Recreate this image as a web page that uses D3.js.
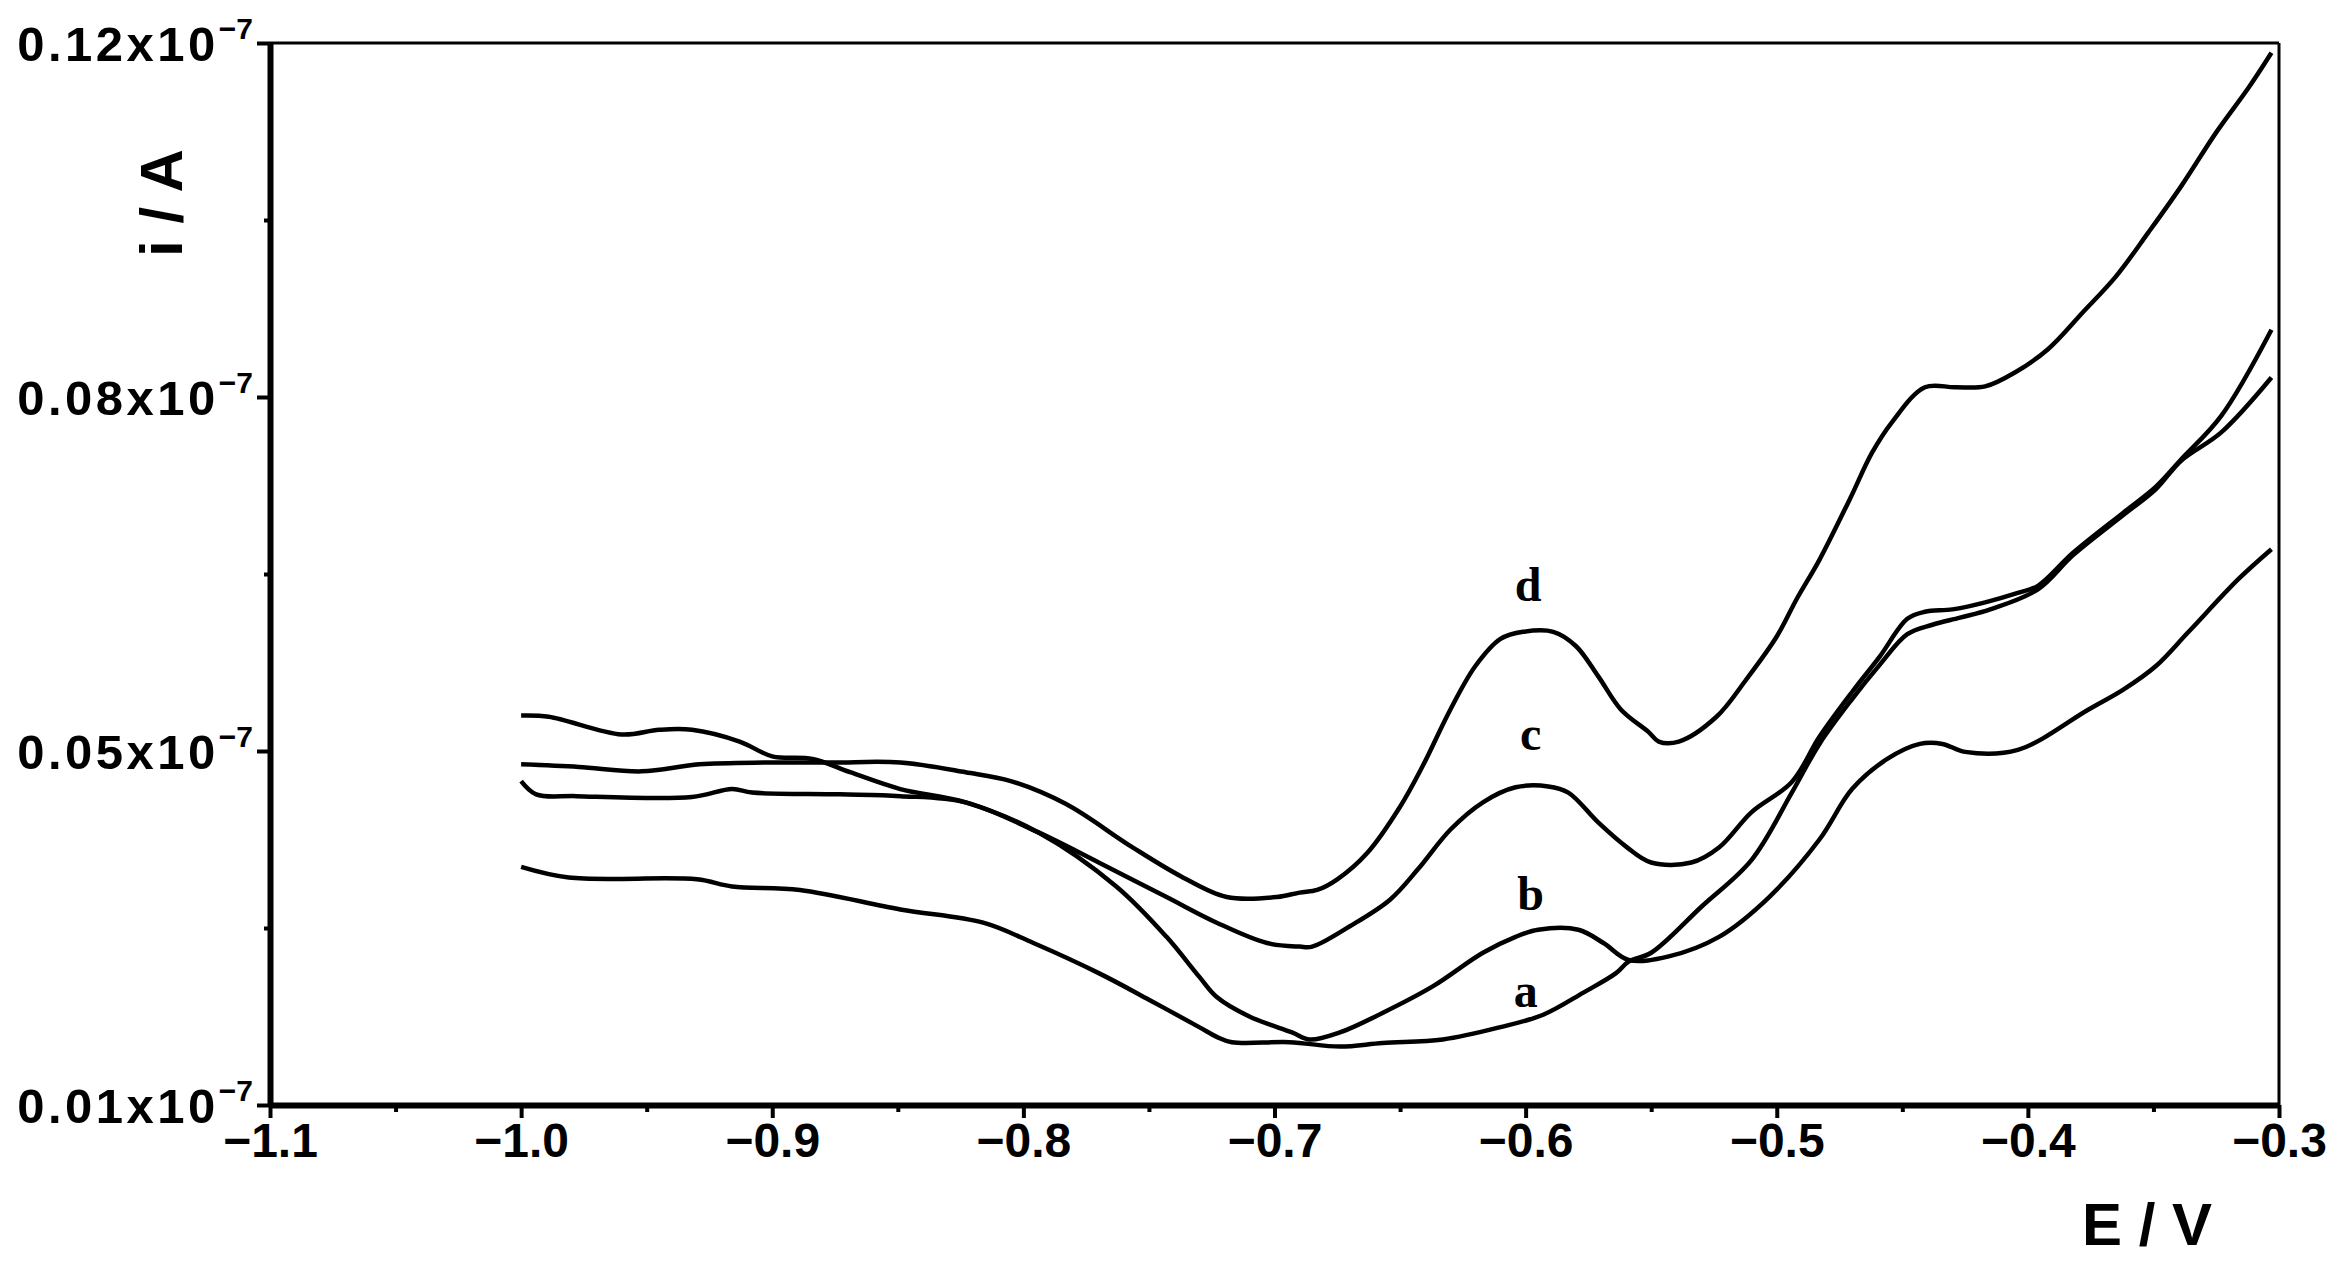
<!DOCTYPE html>
<html>
<head>
<meta charset="utf-8">
<script src="https://cdn.jsdelivr.net/npm/d3@7"></script>
<style>
  html, body { margin: 0; padding: 0; background: #fff; }
  svg { display: block; }
</style>
</head>
<body>
<div id="chart"></div>
<script>
// potential (V) and current (units of the y axis, x10^-7 A)
const potentialA = [-1.0, -0.981, -0.930, -0.916, -0.889, -0.849, -0.816, -0.796, -0.770, -0.750, -0.730, -0.723, -0.717, -0.694, -0.674, -0.657, -0.633, -0.610, -0.593, -0.577, -0.564, -0.559, -0.550, -0.530, -0.510, -0.494, -0.483, -0.470, -0.459, -0.448, -0.438, -0.427, -0.415, -0.396, -0.382, -0.362, -0.349, -0.339, -0.323, -0.303];
const currentA = [0.0369, 0.0357, 0.0355, 0.0347, 0.0343, 0.0321, 0.0306, 0.0283, 0.0249, 0.0219, 0.0188, 0.0177, 0.0171, 0.0171, 0.0166, 0.0170, 0.0174, 0.0188, 0.0202, 0.0227, 0.0249, 0.0262, 0.0272, 0.0324, 0.0377, 0.0453, 0.0506, 0.0544, 0.0573, 0.0599, 0.0607, 0.0613, 0.0620, 0.0637, 0.0666, 0.0700, 0.0722, 0.0746, 0.0770, 0.0822];

const potentialB = [-1.0, -0.989, -0.960, -0.945, -0.932, -0.913, -0.900, -0.884, -0.869, -0.849, -0.823, -0.794, -0.763, -0.743, -0.730, -0.723, -0.710, -0.693, -0.686, -0.674, -0.657, -0.637, -0.617, -0.604, -0.595, -0.579, -0.569, -0.559, -0.543, -0.523, -0.503, -0.483, -0.470, -0.456, -0.443, -0.434, -0.425, -0.404, -0.376, -0.362, -0.349, -0.336, -0.316, -0.303];
const currentB = [0.0530, 0.0529, 0.0514, 0.0518, 0.0518, 0.0508, 0.0494, 0.0491, 0.0476, 0.0457, 0.0442, 0.0408, 0.0347, 0.0290, 0.0245, 0.0222, 0.0200, 0.0182, 0.0174, 0.0182, 0.0204, 0.0234, 0.0272, 0.0290, 0.0298, 0.0298, 0.0283, 0.0264, 0.0268, 0.0290, 0.0335, 0.0400, 0.0457, 0.0491, 0.0506, 0.0506, 0.0499, 0.0501, 0.0535, 0.0552, 0.0572, 0.0601, 0.0646, 0.0671];

const potentialC = [-1.0, -0.994, -0.978, -0.932, -0.916, -0.908, -0.873, -0.849, -0.823, -0.794, -0.770, -0.743, -0.723, -0.703, -0.690, -0.685, -0.670, -0.654, -0.643, -0.630, -0.617, -0.604, -0.591, -0.583, -0.571, -0.560, -0.550, -0.534, -0.523, -0.510, -0.494, -0.483, -0.470, -0.459, -0.448, -0.441, -0.430, -0.417, -0.404, -0.396, -0.382, -0.362, -0.349, -0.339, -0.323, -0.303];
const currentC = [0.0466, 0.0451, 0.0449, 0.0448, 0.0457, 0.0453, 0.0451, 0.0449, 0.0442, 0.0408, 0.0374, 0.0335, 0.0306, 0.0283, 0.0279, 0.0279, 0.0302, 0.0332, 0.0366, 0.0411, 0.0442, 0.0459, 0.0460, 0.0453, 0.0419, 0.0392, 0.0374, 0.0374, 0.0391, 0.0431, 0.0465, 0.0512, 0.0550, 0.0580, 0.0612, 0.0618, 0.0620, 0.0626, 0.0634, 0.0640, 0.0668, 0.0702, 0.0724, 0.0747, 0.0784, 0.0876];

const potentialD = [-1.0, -0.977, -0.952, -0.929, -0.902, -0.876, -0.849, -0.823, -0.805, -0.783, -0.757, -0.737, -0.719, -0.699, -0.690, -0.683, -0.675, -0.663, -0.650, -0.641, -0.630, -0.620, -0.610, -0.601, -0.589, -0.580, -0.571, -0.562, -0.551, -0.547, -0.539, -0.524, -0.512, -0.500, -0.492, -0.483, -0.471, -0.462, -0.454, -0.441, -0.429, -0.417, -0.405, -0.392, -0.378, -0.365, -0.352, -0.339, -0.325, -0.312, -0.303];
const currentD = [0.0485, 0.0482, 0.0477, 0.0485, 0.0487, 0.0487, 0.0487, 0.0476, 0.0466, 0.0440, 0.0392, 0.0358, 0.0335, 0.0335, 0.0340, 0.0343, 0.0355, 0.0385, 0.0437, 0.0483, 0.0535, 0.0572, 0.0595, 0.0601, 0.0601, 0.0589, 0.0563, 0.0535, 0.0516, 0.0508, 0.0508, 0.0529, 0.0561, 0.0597, 0.0629, 0.0662, 0.0713, 0.0753, 0.0779, 0.0811, 0.0811, 0.0812, 0.0828, 0.0854, 0.0896, 0.0936, 0.0986, 0.1038, 0.1099, 0.1150, 0.1189];

// curve labels
const labelNames = ['a', 'b', 'c', 'd'];
const labelE = [-0.600, -0.598, -0.598, -0.599];
const labelI = [0.0211, 0.0320, 0.0501, 0.0627];

// axes
const xTicks = [-1.1, -1.0, -0.9, -0.8, -0.7, -0.6, -0.5, -0.4, -0.3];
const xMinorTicks = [-1.05, -0.95, -0.85, -0.75, -0.65, -0.55, -0.45, -0.35];
const yTicks = [0.01, 0.05, 0.08, 0.12];
const yTickLabels = ['0.01x10', '0.05x10', '0.08x10', '0.12x10'];
const yMinorTicks = [0.03, 0.065, 0.10];
const yExponent = '\u22127';

const width = 2335;
const height = 1264;
const margin = {top: 43, right: 56, bottom: 159, left: 270};
const w = width - margin.left - margin.right;
const h = height - margin.top - margin.bottom;

const series = [
    {name: 'a', E: potentialA, I: currentA},
    {name: 'b', E: potentialB, I: currentB},
    {name: 'c', E: potentialC, I: currentC},
    {name: 'd', E: potentialD, I: currentD}
];

const svg = d3.select('#chart')
    .append('svg')
    .attr('width', width)
    .attr('height', height);

const g = svg.append('g')
    .attr('transform', `translate(${margin.left},${margin.top})`);

const x = d3.scaleLinear().domain([-1.1, -0.3]).range([0, w]);
// the printed y labels are evenly spaced but not evenly valued
const y = d3.scaleLinear().domain(yTicks).range([h, h * 2 / 3, h / 3, 0]);

const sans = "'Liberation Sans', Arial, sans-serif";
const serif = "'Liberation Serif', 'Times New Roman', serif";

// curves
const line = d3.line()
    .x(d => x(d[0]))
    .y(d => y(d[1]))
    .curve(d3.curveCatmullRom.alpha(0.5));

g.append('g')
    .selectAll('path')
    .data(series)
    .enter().append('path')
    .attr('d', s => line(s.E.map((e, i) => [e, s.I[i]])))
    .attr('fill', 'none')
    .attr('stroke', '#000')
    .attr('stroke-width', 4.5)
    .attr('stroke-linejoin', 'round');

// frame, thin on top and right
g.append('line')
    .attr('x1', 0).attr('x2', w).attr('y1', 0).attr('y2', 0)
    .attr('stroke', '#000').attr('stroke-width', 3);
g.append('line')
    .attr('x1', w).attr('x2', w).attr('y1', 0).attr('y2', h)
    .attr('stroke', '#000').attr('stroke-width', 3);

// x axis
const xAxis = g.append('g')
    .attr('transform', `translate(0,${h})`)
    .call(d3.axisBottom(x)
        .tickValues(xTicks)
        .tickSize(13)
        .tickSizeOuter(0)
        .tickPadding(5)
        .tickFormat(d3.format('.1f')));

g.append('g')
    .attr('transform', `translate(0,${h})`)
    .call(d3.axisBottom(x).tickValues(xMinorTicks).tickSize(7).tickFormat(''))
    .call(a => a.select('.domain').remove());

xAxis.select('.domain').attr('stroke-width', 6);
xAxis.selectAll('text')
    .attr('font-family', sans)
    .attr('font-weight', 'bold')
    .attr('font-size', 48)
    .attr('fill', '#000');

// y axis
const yAxis = g.append('g')
    .call(d3.axisLeft(y)
        .tickValues(yTicks)
        .tickSize(13)
        .tickSizeOuter(0)
        .tickFormat(''));

g.append('g')
    .call(d3.axisLeft(y).tickValues(yMinorTicks).tickSize(6).tickFormat(''))
    .call(a => a.select('.domain').remove());

yAxis.select('.domain').attr('stroke-width', 6);

const yLabel = yAxis.selectAll('.tick')
    .append('text')
    .attr('x', -17)
    .attr('y', 0)
    .attr('dy', '0.36em')
    .attr('text-anchor', 'end')
    .attr('font-family', sans)
    .attr('font-weight', 'bold')
    .attr('font-size', 49)
    .attr('fill', '#000');

yLabel.append('tspan')
    .attr('letter-spacing', 3.5)
    .text((d, i) => yTickLabels[i]);
yLabel.append('tspan')
    .attr('font-size', 30)
    .attr('dy', -22)
    .text(yExponent);

g.selectAll('.tick line').attr('stroke-width', 4);

// curve labels
g.append('g')
    .selectAll('text')
    .data(labelNames)
    .enter().append('text')
    .attr('x', (d, i) => x(labelE[i]))
    .attr('y', (d, i) => y(labelI[i]))
    .attr('text-anchor', 'middle')
    .attr('font-family', serif)
    .attr('font-weight', 'bold')
    .attr('font-size', 48)
    .text(d => d);

// axis titles
svg.append('text')
    .attr('transform', 'translate(182,203) rotate(-90)')
    .attr('text-anchor', 'middle')
    .attr('font-family', sans)
    .attr('font-weight', 'bold')
    .attr('font-size', 60)
    .text('i / A');

svg.append('text')
    .attr('x', 2147)
    .attr('y', 1245)
    .attr('text-anchor', 'middle')
    .attr('font-family', sans)
    .attr('font-weight', 'bold')
    .attr('font-size', 60)
    .text('E / V');
</script>
</body>
</html>
